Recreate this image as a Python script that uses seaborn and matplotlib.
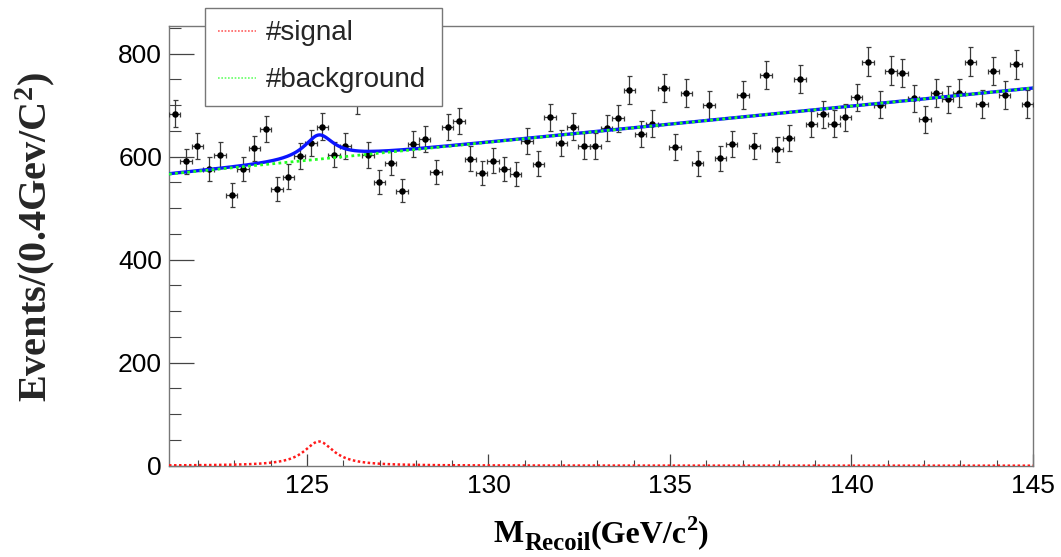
import numpy as np
import pandas as pd
import matplotlib
matplotlib.use("Agg")
import matplotlib.pyplot as plt
from matplotlib.lines import Line2D
from matplotlib.transforms import IdentityTransform
import seaborn as sns

# ---------------- data ----------------
mass_lo, mass_hi, n_bins = 121.2, 145.0, 76
counts = [683, 591, 620, 576, 603, 526, 576, 616, 653, 537,
          561, 601, 627, 658, 604, 620, 709, 603, 550, 588,
          534, 625, 634, 570, 657, 669, 596, 568, 592, 576,
          566, 631, 586, 676, 627, 658, 620, 620, 656, 674,
          730, 643, 664, 733, 618, 723, 587, 700, 597, 625,
          720, 621, 758, 614, 636, 751, 663, 682, 664, 676,
          715, 784, 701, 767, 762, 713, 672, 724, 711, 724,
          784, 702, 766, 719, 779, 702]
# fitted model
bkg_at_lo, bkg_at_hi = 566.0, 733.0
sig_peak, sig_mass, sig_halfwidth = 47.0, 125.33, 0.5
legend_labels = ["#signal", "#background"]
x_ticks = [125, 130, 135, 140, 145]
y_ticks = [0, 200, 400, 600, 800]

# ---------------- style ----------------
sns.set_theme(style="white")
plt.rcParams["font.family"] = ["Liberation Sans", "DejaVu Sans"]
plt.rcParams["mathtext.fontset"] = "custom"
plt.rcParams["mathtext.rm"] = "Liberation Serif:bold"
plt.rcParams["mathtext.bf"] = "Liberation Serif:bold"
plt.rcParams["mathtext.it"] = "Liberation Serif:bold"

W, H = 1061, 557
fig = plt.figure(figsize=(W / 100, H / 100), dpi=100)
ax = fig.add_axes([169 / W, 1 - 465.7 / H, 864 / W, 440 / H])

edges = np.linspace(mass_lo, mass_hi, n_bins + 1)
centers = 0.5 * (edges[:-1] + edges[1:])
half_w = 0.5 * (edges[1] - edges[0])
y = np.array(counts, dtype=float)
df = pd.DataFrame({"m": centers, "n": y})

xx = np.linspace(mass_lo, mass_hi, 1200)
bkg = bkg_at_lo + (bkg_at_hi - bkg_at_lo) * (xx - mass_lo) / (mass_hi - mass_lo)
sig = sig_peak / (1.0 + ((xx - sig_mass) / sig_halfwidth) ** 2)
curves = pd.DataFrame({"m": xx, "bkg": bkg, "sig": sig, "tot": bkg + sig})

# error bars + points
ax.errorbar(centers, y, xerr=half_w, yerr=np.sqrt(y), fmt="none",
            ecolor="#3a3a3a", elinewidth=0.9, capsize=1.8, capthick=0.9, zorder=3)
sns.scatterplot(data=df, x="m", y="n", ax=ax, color="black", s=22,
                edgecolor="black", linewidth=0, zorder=4)

# fit curves
sns.lineplot(data=curves, x="m", y="tot", ax=ax, color="#0a14ff", lw=2.4, zorder=5)
sns.lineplot(data=curves, x="m", y="bkg", ax=ax, color="#22ff22", lw=2.0,
             linestyle=(0, (1, 1.2)), zorder=6)
sns.lineplot(data=curves, x="m", y="sig", ax=ax, color="#ff1a1a", lw=1.8,
             linestyle=(0, (1, 1.0)), zorder=6)

ax.set_xlim(mass_lo, mass_hi)
ax.set_ylim(0, 854)
ax.set_xticks(x_ticks)
ax.set_xticklabels([str(v) for v in x_ticks])
ax.set_xticks(np.arange(122, 145, 1), minor=True)
ax.set_yticks(y_ticks)
ax.set_yticklabels([str(v) for v in y_ticks])
ax.set_yticks(np.arange(0, 851, 50), minor=True)

ax.tick_params(axis="x", which="major", direction="in", length=8.6, width=0.9,
               color="#444444", labelsize=19, pad=6, top=False, bottom=True)
ax.tick_params(axis="x", which="minor", direction="in", length=4.3, width=0.8,
               color="#444444", top=False, bottom=True)
ax.tick_params(axis="y", which="major", direction="in", length=18, width=0.9,
               color="#444444", labelsize=19, pad=5, right=False, left=True)
ax.tick_params(axis="y", which="minor", direction="in", length=8.6, width=0.8,
               color="#444444", right=False, left=True)
for lab in ax.get_xticklabels() + ax.get_yticklabels():
    lab.set_color("black")

for s in ax.spines.values():
    s.set_visible(True)
    s.set_color("#777777")
    s.set_linewidth(1.0)

ax.set_xlabel("")
ax.set_ylabel(r"Events/(0.4Gev/C$^{2}$)", family="Liberation Serif",
              fontweight="bold", fontsize=29)
ax.yaxis.set_label_coords((57 - 169) / 864, (465.7 - 237.5) / 440)

# x-axis title built from pieces (large bold subscript like ROOT's TLatex)
fig.canvas.draw()
renderer = fig.canvas.get_renderer()
S = 23
pieces = [("M", S, 0), ("Recoil", S * 0.78, -8), ("(GeV/c", S, 0),
          ("2", S * 0.7, 12), (")", S, 0)]
x_px, base_px = 494.0, H - 542.0
for txt, size, dy in pieces:
    t = fig.text(x_px, base_px + dy, txt, transform=IdentityTransform(),
                 fontsize=size, family="Liberation Serif", fontweight="bold",
                 ha="left", va="baseline", color="black")
    x_px += t.get_window_extent(renderer).width

# legend
handles = [Line2D([], [], color="#ff6060", lw=1.2, linestyle=(0, (1, 1))),
           Line2D([], [], color="#66ff66", lw=1.2, linestyle=(0, (1, 1)))]
leg = fig.legend(handles, legend_labels, loc="upper left",
                 bbox_to_anchor=(205 / W, 1 - 99 / H, 237 / W, 91 / H), mode="expand",
                 fontsize=20, frameon=True, fancybox=False, edgecolor="#777777",
                 handlelength=1.4, handletextpad=0.35, labelspacing=0.75,
                 borderaxespad=0, borderpad=0.45)
leg.get_frame().set_linewidth(1.0)
leg.get_frame().set_facecolor("white")
leg.get_frame().set_alpha(1.0)
leg.set_zorder(10)

fig.savefig("out.png", dpi=100)
